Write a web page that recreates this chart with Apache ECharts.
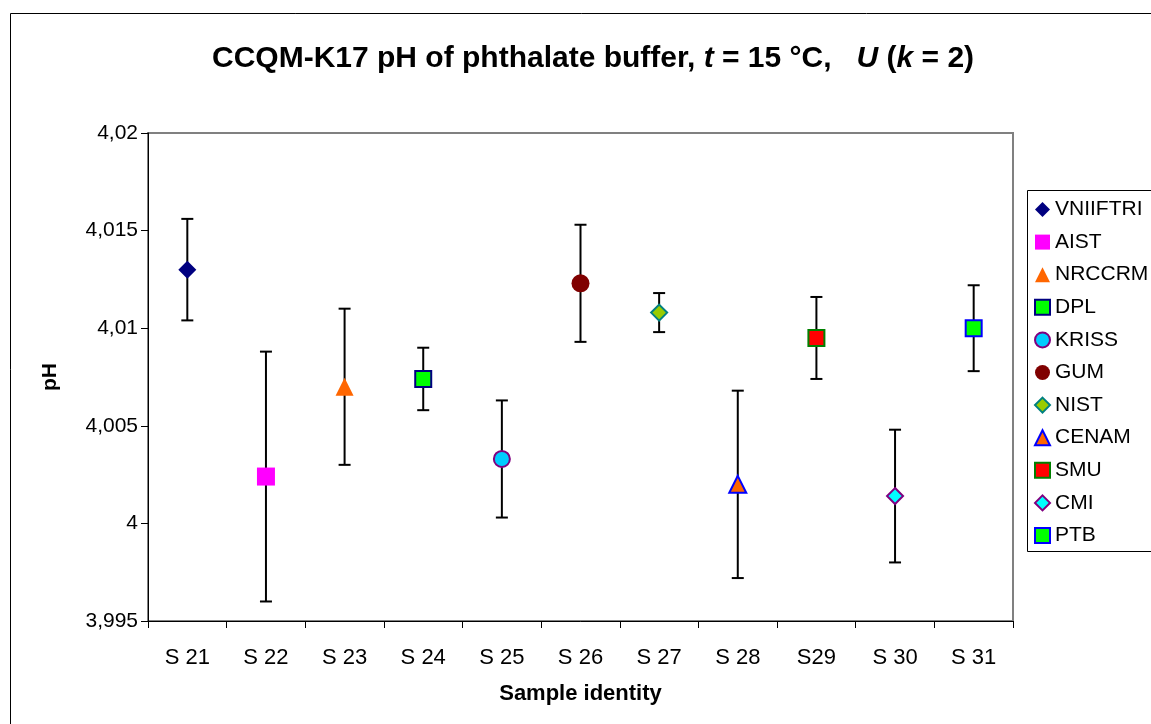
<!DOCTYPE html>
<html>
<head>
<meta charset="utf-8">
<script src="https://cdn.jsdelivr.net/npm/echarts@6/dist/echarts.min.js"></script>
<style>
  html, body { margin: 0; padding: 0; background: #fff; }
  #chart { width: 1151px; height: 724px; }
</style>
</head>
<body>
<div id="chart"></div>
<script>
  // samples on the x axis
  const categories = ['S 21', 'S 22', 'S 23', 'S 24', 'S 25', 'S 26', 'S 27', 'S 28', 'S29', 'S 30', 'S 31']
  // one lab per sample
  const labs = ['VNIIFTRI', 'AIST', 'NRCCRM', 'DPL', 'KRISS', 'GUM', 'NIST', 'CENAM', 'SMU', 'CMI', 'PTB']
  // measured pH
  const phValues = [4.0130, 4.0024, 4.0070, 4.0074, 4.0033, 4.0123, 4.0108, 4.0020, 4.0095, 4.0014, 4.0100]
  // expanded uncertainty U (k = 2)
  const uncert = [0.0026, 0.0064, 0.0040, 0.0016, 0.0030, 0.0030, 0.0010, 0.0048, 0.0021, 0.0034, 0.0022]
  const yTicks = [3.995, 4, 4.005, 4.01, 4.015, 4.02]

  // marker look per lab
  const markers = [
    { symbol: 'diamond', size: 18, color: '#000080', border: '#000080', bw: 0 },
    { symbol: 'rect', size: 18, color: '#FF00FF', border: '#FF00FF', bw: 0 },
    { symbol: 'triangle', size: 18, color: '#FF6600', border: '#FF6600', bw: 0 },
    { symbol: 'rect', size: 16, color: '#00FF00', border: '#000080', bw: 2 },
    { symbol: 'circle', size: 16, color: '#00CCFF', border: '#800080', bw: 2 },
    { symbol: 'circle', size: 18, color: '#800000', border: '#800000', bw: 0 },
    { symbol: 'diamond', size: 16, color: '#99CC00', border: '#008080', bw: 2 },
    { symbol: 'triangle', size: 17, color: '#FF6600', border: '#0000FF', bw: 2 },
    { symbol: 'rect', size: 16, color: '#FF0000', border: '#008000', bw: 2 },
    { symbol: 'diamond', size: 16, color: '#00FFFF', border: '#800080', bw: 2 },
    { symbol: 'rect', size: 16, color: '#00FF00', border: '#0000FF', bw: 2 }
  ]

  const font = '"Liberation Sans", Arial, sans-serif'
  let myChart = echarts.init(document.getElementById('chart'))

  const errData = phValues.map((v, i) => [i, v + uncert[i], v - uncert[i]])

  let series = [{
    name: 'U',
    type: 'custom',
    z: 1,
    silent: true,
    data: errData,
    renderItem: function (params, api) {
      const top = api.coord([api.value(0), api.value(1)])
      const bot = api.coord([api.value(0), api.value(2)])
      const w = 6
      const st = { stroke: '#000', lineWidth: 2 }
      return {
        type: 'group',
        children: [
          { type: 'line', shape: { x1: top[0], y1: top[1], x2: bot[0], y2: bot[1] }, style: st },
          { type: 'line', shape: { x1: top[0] - w, y1: top[1], x2: top[0] + w, y2: top[1] }, style: st },
          { type: 'line', shape: { x1: bot[0] - w, y1: bot[1], x2: bot[0] + w, y2: bot[1] }, style: st }
        ]
      }
    }
  }]

  labs.forEach((lab, i) => {
    const m = markers[i]
    series.push({
      name: lab,
      type: 'scatter',
      z: 3,
      symbol: m.symbol,
      symbolSize: m.size,
      itemStyle: { color: m.color, borderColor: m.border, borderWidth: m.bw, opacity: 1 },
      data: [[i, phValues[i]]]
    })
  })

  const option = {
    animation: false,
    backgroundColor: '#fff',
    title: {
      left: 207,
      top: 39,
      text: '{b|CCQM-K17 pH of phthalate buffer, }{i|t}{b| = 15 °C,   }{i|U}{b| (}{i|k}{b| = 2)}',
      textStyle: {
        rich: {
          b: { fontFamily: font, fontWeight: 'bold', fontSize: 30, color: '#000' },
          i: { fontFamily: font, fontWeight: 'bold', fontStyle: 'italic', fontSize: 30, color: '#000' }
        }
      }
    },
    legend: {
      orient: 'vertical',
      left: 1029,
      top: 194,
      itemWidth: 15,
      itemHeight: 15,
      itemGap: 11.6,
      data: labs,
      textStyle: { fontFamily: font, fontSize: 21, color: '#000' }
    },
    graphic: [
      { type: 'rect', shape: { x: 10.5, y: 13.5, width: 1200, height: 800 }, style: { fill: 'none', stroke: '#000', lineWidth: 1 }, silent: true },
      { type: 'rect', shape: { x: 1027.5, y: 190.5, width: 200, height: 361 }, style: { fill: 'none', stroke: '#000', lineWidth: 1 }, silent: true }
    ],
    grid: {
      left: 148,
      top: 133,
      right: 138,
      bottom: 103,
      show: true,
      borderColor: '#808080',
      borderWidth: 2
    },
    xAxis: {
      type: 'category',
      data: categories,
      boundaryGap: true,
      name: 'Sample identity',
      nameLocation: 'middle',
      nameGap: 62,
      nameTextStyle: { fontFamily: font, fontWeight: 'bold', fontSize: 22, color: '#000' },
      axisLine: { lineStyle: { color: '#000', width: 1 } },
      axisTick: { show: true, length: 7, lineStyle: { color: '#000' } },
      axisLabel: { fontFamily: font, fontSize: 22, color: '#000', margin: 26 },
      splitLine: { show: false }
    },
    yAxis: {
      type: 'value',
      min: yTicks[0],
      max: yTicks[yTicks.length - 1],
      interval: 0.005,
      name: 'pH',
      nameLocation: 'middle',
      nameGap: 87,
      nameTextStyle: { fontFamily: font, fontWeight: 'bold', fontSize: 21, color: '#000' },
      axisLine: { show: true, lineStyle: { color: '#000', width: 1 } },
      axisTick: { show: true, length: 7, lineStyle: { color: '#000' } },
      axisLabel: {
        fontFamily: font,
        fontSize: 21,
        color: '#000',
        margin: 10,
        formatter: function (v) {
          return String(parseFloat(v.toFixed(3))).replace('.', ',')
        }
      },
      splitLine: { show: false }
    },
    series: series
  }

  myChart.setOption(option)
</script>
</body>
</html>
